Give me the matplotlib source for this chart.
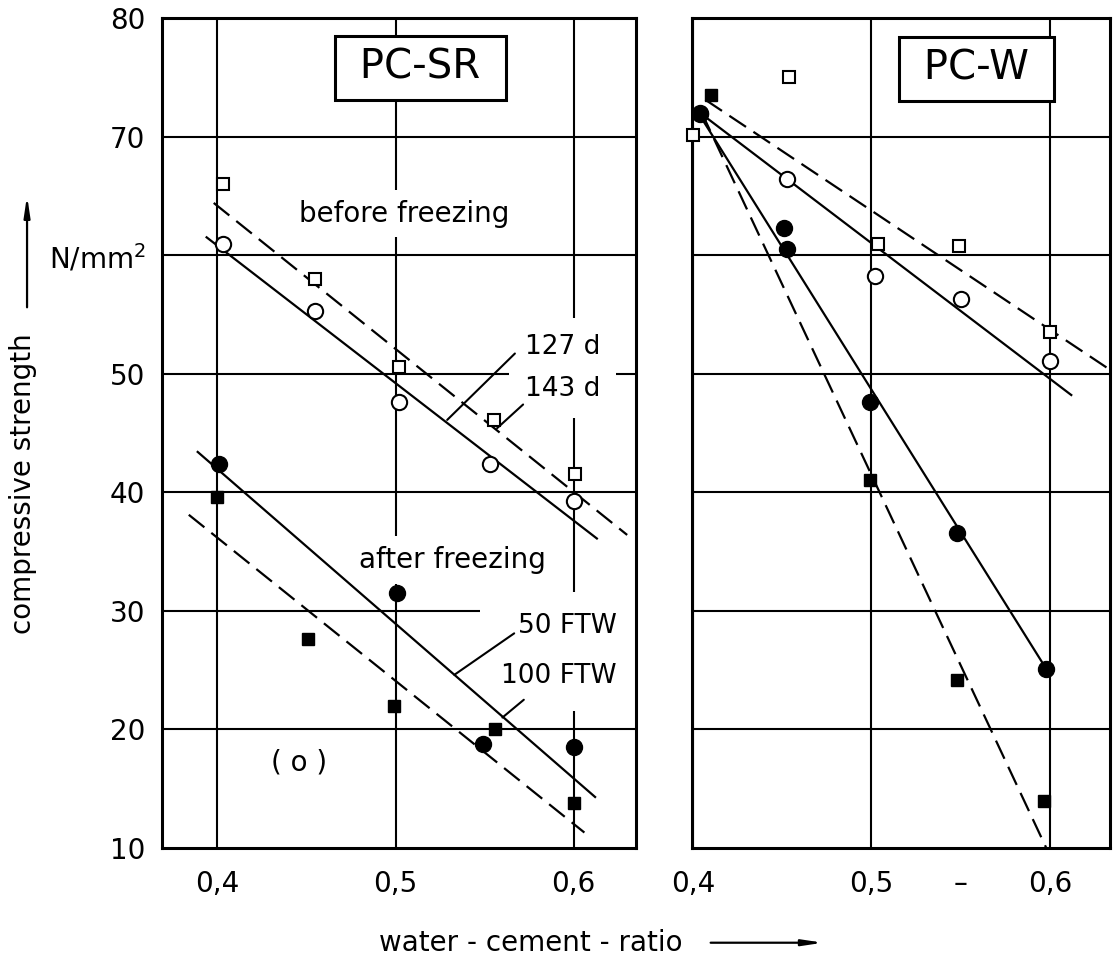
import matplotlib.pyplot as plt

# x = water-cement-ratio, y = compressive strength in N/mm2
# PC-SR (left panel)
sr_sq_open_x = [0.403, 0.455, 0.502, 0.555, 0.601]  # 143 d
sr_sq_open_y = [66.0, 58.0, 50.6, 46.1, 41.5]
sr_ci_open_x = [0.403, 0.455, 0.502, 0.553, 0.600]  # 127 d
sr_ci_open_y = [60.9, 55.3, 47.6, 42.4, 39.3]
sr_ci_full_x = [0.401, 0.501, 0.549, 0.600]  # 50 FTW
sr_ci_full_y = [42.4, 31.5, 18.8, 18.5]
sr_sq_full_x = [0.400, 0.451, 0.499, 0.556, 0.600]  # 100 FTW
sr_sq_full_y = [39.6, 27.6, 22.0, 20.0, 13.8]

# fitted lines, start and end point as drawn
sr_127d_x, sr_127d_y = [0.394, 0.613], [61.5, 36.1]
sr_143d_x, sr_143d_y = [0.398, 0.630], [64.4, 36.4]
sr_50ftw_x, sr_50ftw_y = [0.389, 0.612], [43.4, 14.3]
sr_100ftw_x, sr_100ftw_y = [0.384, 0.606], [38.1, 11.3]

# PC-W (right panel)
w_sq_open_x = [0.400, 0.454, 0.504, 0.549, 0.600]
w_sq_open_y = [70.1, 75.0, 60.9, 60.8, 53.5]
w_ci_open_x = [0.404, 0.453, 0.502, 0.550, 0.600]
w_ci_open_y = [72.0, 66.4, 58.2, 56.3, 51.1]
w_ci_full_x = [0.404, 0.451, 0.453, 0.499, 0.548, 0.598]
w_ci_full_y = [71.9, 62.3, 60.5, 47.6, 36.6, 25.1]
w_sq_full_x = [0.410, 0.499, 0.548, 0.597]
w_sq_full_y = [73.5, 41.0, 24.2, 14.0]

w_sq_open_line_x, w_sq_open_line_y = [0.407, 0.632], [73.1, 50.5]
w_ci_open_line_x, w_ci_open_line_y = [0.404, 0.612], [72.0, 48.2]
w_ci_full_line_x, w_ci_full_line_y = [0.403, 0.598], [72.0, 25.1]
w_sq_full_line_x, w_sq_full_line_y = [0.405, 0.598], [72.0, 10.0]

grid_x = [0.4, 0.5, 0.6]
grid_y = [20, 30, 40, 50, 60, 70]
y_ticks = [10, 20, 30, 40, 50, 60, 70, 80]
y_labels = ["10", "20", "30", "40", "50", "N/mm$^2$", "70", "80"]

plt.rcParams["font.family"] = ["DejaVu Sans"]
fig = plt.figure(figsize=(11.13, 9.6), dpi=100)
ax1 = fig.add_axes([0.1456, 0.1167, 0.4259, 0.8646])
ax2 = fig.add_axes([0.6217, 0.1167, 0.3756, 0.8646])

dash = (9, 4)
open_sq = dict(marker="s", ms=9, mfc="white", mec="black", mew=1.5, ls="none", zorder=5)
open_ci = dict(marker="o", ms=11, mfc="white", mec="black", mew=1.5, ls="none", zorder=5)
full_ci = dict(marker="o", ms=11.5, color="black", ls="none", zorder=6)
full_sq = dict(marker="s", ms=9, color="black", ls="none", zorder=6)
white_box = dict(boxstyle="square,pad=0.35", fc="white", ec="none")

for ax in (ax1, ax2):
    for gx in grid_x:
        ax.axvline(gx, color="black", lw=1.5, zorder=1)
    for gy in grid_y:
        ax.axhline(gy, color="black", lw=1.5, zorder=1)
    ax.set_ylim(10, 80)
    ax.tick_params(length=0, labelsize=20, pad=12)
    for sp in ax.spines.values():
        sp.set_linewidth(2.2)
    ax.tick_params(axis="x", pad=16)

# left panel
ax1.set_xlim(0.369, 0.635)
ax1.plot(sr_127d_x, sr_127d_y, color="black", lw=1.6, zorder=3)
ax1.plot(sr_143d_x, sr_143d_y, color="black", lw=1.6, dashes=dash, zorder=3)
ax1.plot(sr_50ftw_x, sr_50ftw_y, color="black", lw=1.6, zorder=3)
ax1.plot(sr_100ftw_x, sr_100ftw_y, color="black", lw=1.6, dashes=dash, zorder=3)
ax1.plot(sr_sq_open_x, sr_sq_open_y, **open_sq)
ax1.plot(sr_ci_open_x, sr_ci_open_y, **open_ci)
ax1.plot(sr_ci_full_x, sr_ci_full_y, **full_ci)
ax1.plot(sr_sq_full_x, sr_sq_full_y, **full_sq)
ax1.set_xticks(grid_x)
ax1.set_xticklabels(["0,4", "0,5", "0,6"])
ax1.set_yticks(y_ticks)
ax1.set_yticklabels(y_labels)

ax1.text(0.514, 75.8, " PC-SR ", fontsize=29, ha="center", va="center", zorder=4,
         bbox=dict(boxstyle="square,pad=0.3", fc="white", ec="black", lw=2.2))
ax1.text(0.505, 63.5, "before freezing", fontsize=20, ha="center", va="center", zorder=2, bbox=white_box)
ax1.text(0.532, 34.3, "after freezing", fontsize=20, ha="center", va="center", zorder=2, bbox=white_box)
ax1.text(0.5727, 50.47, "127 d\n143 d", fontsize=19, ha="left", va="center", linespacing=1.8, zorder=2,
         bbox=dict(boxstyle="square,pad=0.6", fc="white", ec="none"))
ax1.text(0.6243, 26.57, "50 FTW\n100 FTW", fontsize=19, ha="right", va="center", multialignment="right",
         linespacing=2.2, zorder=2, bbox=dict(boxstyle="square,pad=0.8", fc="white", ec="none"))
ax1.text(0.446, 17.2, "( o )", fontsize=20, ha="center", va="center")
# leader lines from the labels to their lines
leaders = [((0.567, 51.7), (0.529, 46.1)), ((0.5716, 47.4), (0.557, 45.4)),
           ((0.5666, 28.1), (0.533, 24.6)), ((0.572, 22.5), (0.560, 21.0))]
for start, end in leaders:
    ax1.annotate("", xy=end, xytext=start, zorder=4,
                 arrowprops=dict(arrowstyle="-", lw=1.5, shrinkA=0, shrinkB=0, color="black"))

# right panel
ax2.set_xlim(0.3995, 0.6337)
ax2.plot(w_sq_open_line_x, w_sq_open_line_y, color="black", lw=1.6, dashes=dash, zorder=3)
ax2.plot(w_ci_open_line_x, w_ci_open_line_y, color="black", lw=1.6, zorder=3)
ax2.plot(w_ci_full_line_x, w_ci_full_line_y, color="black", lw=1.6, zorder=3)
ax2.plot(w_sq_full_line_x, w_sq_full_line_y, color="black", lw=1.6, dashes=dash, zorder=3)
for pts, style in [((w_sq_open_x, w_sq_open_y), open_sq), ((w_ci_open_x, w_ci_open_y), open_ci),
                   ((w_ci_full_x, w_ci_full_y), full_ci), ((w_sq_full_x, w_sq_full_y), full_sq)]:
    ax2.plot(*pts, clip_on=False, **style)
ax2.set_xticks([0.4, 0.5, 0.55, 0.6])
ax2.set_xticklabels(["0,4", "0,5", "\u2013", "0,6"])
ax2.set_yticks(y_ticks)
ax2.set_yticklabels([])
ax2.text(0.559, 75.7, " PC-W ", fontsize=29, ha="center", va="center", zorder=4,
         bbox=dict(boxstyle="square,pad=0.3", fc="white", ec="black", lw=2.2))

# axis titles with arrows
fig.text(0.021, 0.496, "compressive strength", rotation=90, fontsize=20, ha="center", va="center")
fig.text(0.477, 0.018, "water - cement - ratio", fontsize=20, ha="center", va="center")
ax1.annotate("", xy=(0.0243, 0.799), xytext=(0.0243, 0.677), xycoords="figure fraction",
             annotation_clip=False,
             arrowprops=dict(arrowstyle="-|>,head_length=1.2,head_width=0.18", lw=1.6, color="black"))
ax1.annotate("", xy=(0.742, 0.018), xytext=(0.636, 0.018), xycoords="figure fraction",
             annotation_clip=False,
             arrowprops=dict(arrowstyle="-|>,head_length=1.2,head_width=0.18", lw=1.6, color="black"))

fig.savefig("out.png", dpi=100, facecolor="white")
